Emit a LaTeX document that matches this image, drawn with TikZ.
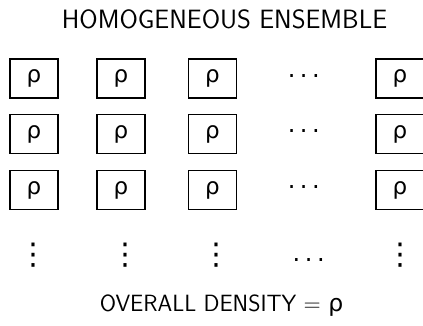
\documentclass[tikz,border=0pt]{standalone}
\usepackage{fontspec}
\newfontfamily\greekfont{DejaVu Sans}
\begin{document}
\begin{tikzpicture}[x=1pt,y=-1pt,
  cell/.style={draw=black,line width=1.2pt,minimum width=48pt,minimum height=39pt,inner sep=0pt,font=\fontsize{23}{26}\selectfont\greekfont},
  titlelbl/.style={font=\fontsize{26.5}{30}\selectfont\sffamily},
  lbl/.style={font=\fontsize{23.5}{28}\selectfont\sffamily},
  vdotstext/.style={inner sep=0pt,font=\fontsize{30}{32}\selectfont\greekfont},
  hdotstext/.style={inner sep=0pt,anchor=base,font=\fontsize{24}{28}\selectfont\greekfont}]
\useasboundingbox (0,0) rectangle (423,326);
\clip (0,0) rectangle (423,326);
\node[titlelbl] (title) at (224.5,19) {HOMOGENEOUS ENSEMBLE};
\foreach \r/\y/\dy in {1/78.5/75.7,2/134/131,3/190/186.7}{
  \node[cell] (c1\r) at (34,\y) {ρ};
  \node[cell] (c2\r) at (121,\y) {ρ};
  \node[cell] (c3\r) at (212.5,\y) {ρ};
  \node[hdotstext] (h\r) at (303.8,\dy+1.9) {.\hspace{4.6pt}.\hspace{4.6pt}.};
  \node[cell] (c5\r) at (400,\y) {ρ};
}
\foreach \c/\x in {1/34,2/125,3/216.7,5/400}{
  \node[vdotstext] (v\c) at (\x,255.5) {⋮};
}
\node[hdotstext] (b) at (308.7,261.9) {.\hspace{4.6pt}.\hspace{4.6pt}.};
\node[lbl] (bottom) at (221.5,306) {OVERALL DENSITY = {\greekfont ρ}};
\end{tikzpicture}
\end{document}
